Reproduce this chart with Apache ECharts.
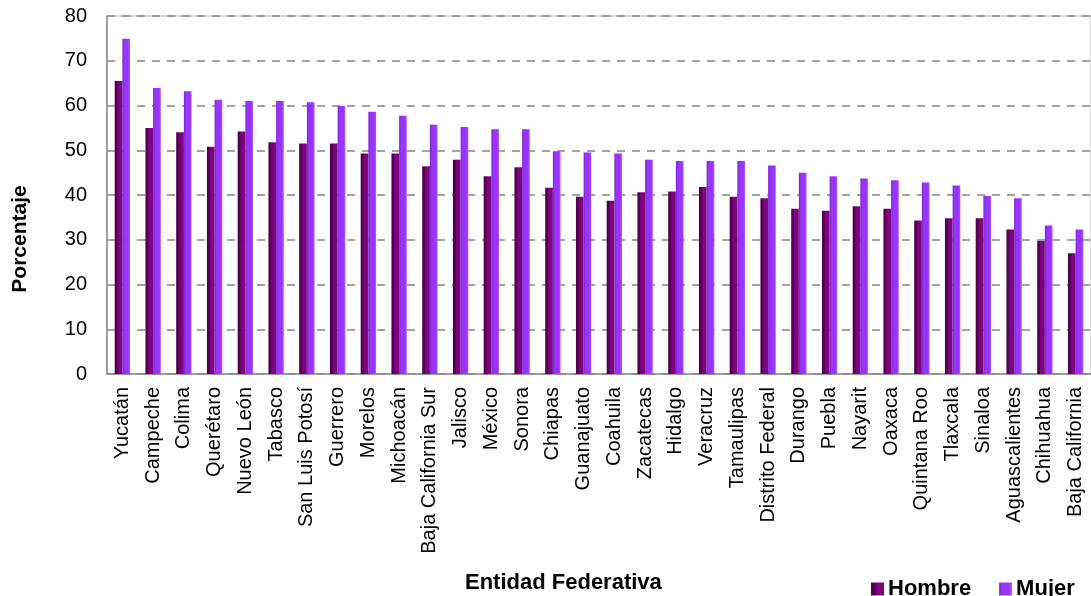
<!DOCTYPE html>
<html>
<head>
<meta charset="utf-8">
<script src="https://cdn.jsdelivr.net/npm/echarts@6/dist/echarts.min.js"></script>
<style>
html,body{margin:0;padding:0;background:#fff;}
#chart{width:1091px;height:596px;}
</style>
</head>
<body>
<div id="chart"></div>
<script>
const categories = ['Yucatán','Campeche','Colima','Querétaro','Nuevo León','Tabasco','San Luis Potosí','Guerrero','Morelos','Michoacán','Baja California Sur','Jalisco','México','Sonora','Chiapas','Guanajuato','Coahuila','Zacatecas','Hidalgo','Veracruz','Tamaulipas','Distrito Federal','Durango','Puebla','Nayarit','Oaxaca','Quintana Roo','Tlaxcala','Sinaloa','Aguascalientes','Chihuahua','Baja California'];
const hombre = [65.5, 55.0, 54.0, 50.8, 54.2, 51.8, 51.5, 51.5, 49.3, 49.3, 46.4, 47.9, 44.2, 46.2, 41.6, 39.6, 38.7, 40.6, 40.8, 41.8, 39.6, 39.3, 36.9, 36.5, 37.5, 36.9, 34.3, 34.8, 34.8, 32.3, 29.7, 27.0];
const mujer = [74.9, 63.9, 63.2, 61.3, 61.0, 61.0, 60.7, 59.9, 58.6, 57.7, 55.7, 55.2, 54.7, 54.7, 49.8, 49.5, 49.3, 47.9, 47.6, 47.6, 47.6, 46.6, 45.0, 44.2, 43.7, 43.3, 42.8, 42.1, 39.8, 39.3, 33.2, 32.3];
const yTicks = {min: 0, max: 80, interval: 10};
const seriesNames = ['Hombre', 'Mujer'];
const xTitle = 'Entidad Federativa';
const yTitle = 'Porcentaje';

const FONT = '"Liberation Sans", Arial, sans-serif';
const chart = echarts.init(document.getElementById('chart'));

function grad(stops) {
  return new echarts.graphic.LinearGradient(0, 0, 1, 0, stops.map((c, i) => ({offset: c[0], color: c[1]})));
}

chart.setOption({
  animation: false,
  backgroundColor: '#ffffff',
  textStyle: {fontFamily: FONT},
  grid: {left: 107, top: 16, right: -5, bottom: 222, show: true, borderColor: '#b0b0b0', borderWidth: 1},
  title: {
    text: xTitle, left: 465, top: 572, padding: 0,
    textStyle: {fontFamily: FONT, fontSize: 22, fontWeight: 'bold', color: '#000'}
  },
  graphic: [{
    type: 'text', x: 20, y: 239, rotation: Math.PI / 2,
    style: {text: yTitle, font: 'bold 21px ' + FONT, fill: '#000', textAlign: 'center', textVerticalAlign: 'middle'}
  }],
  legend: {
    left: 866, top: 573, itemWidth: 13, itemHeight: 13, itemGap: 28, icon: 'rect',
    textStyle: {fontFamily: FONT, fontSize: 22, fontWeight: 'bold', color: '#000', lineHeight: 22, padding: [0, 0, 0, -1]},
    data: seriesNames
  },
  xAxis: {
    type: 'category', data: categories,
    axisLine: {lineStyle: {color: '#8c8c8c', width: 1.5}},
    axisTick: {show: false},
    axisLabel: {interval: 0, rotate: 90, margin: 13, fontSize: 20, color: '#000', fontFamily: FONT}
  },
  yAxis: {
    type: 'value', min: yTicks.min, max: yTicks.max, interval: yTicks.interval,
    axisLine: {show: true, lineStyle: {color: '#8c8c8c', width: 1.5}},
    axisTick: {show: false},
    axisLabel: {margin: 20, fontSize: 20, color: '#000', fontFamily: FONT},
    splitLine: {lineStyle: {color: '#868686', width: 1.6, type: [8, 7]}}
  },
  series: [
    {
      name: seriesNames[0], type: 'bar', data: hombre,
      barGap: '0%', barCategoryGap: '50%',
      itemStyle: {color: grad([[0, '#4a004a'], [0.35, '#5c005c'], [0.4, '#800080'], [1, '#7a0a7a']])}
    },
    {
      name: seriesNames[1], type: 'bar', data: mujer,
      itemStyle: {color: grad([[0, '#7a22c8'], [0.25, '#9933ff'], [0.75, '#9933ff'], [1, '#ad62f5']])}
    }
  ]
});
</script>
</body>
</html>
